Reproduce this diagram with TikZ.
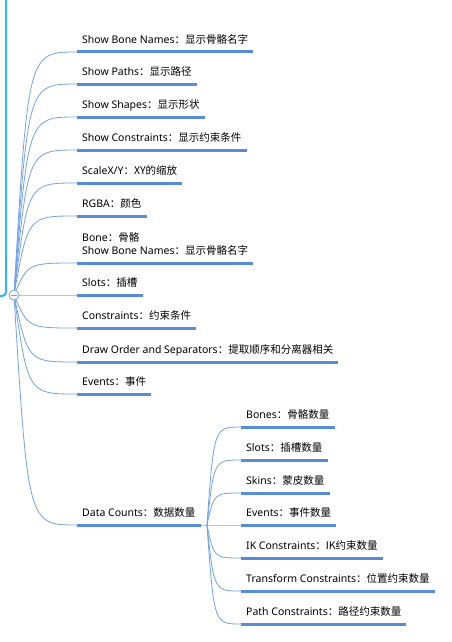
\documentclass[tikz,border=0pt]{standalone}
\usepackage{fontspec}
\setmainfont{Noto Sans}
\newfontfamily\cjk{Noto Sans CJK SC}
\newcommand{\zh}[1]{{\cjk #1}}
\usetikzlibrary{calc}
\definecolor{MapCyan}{RGB}{51,181,245}
\definecolor{MapBlue}{RGB}{88,140,214}
\definecolor{MapLink}{RGB}{118,163,224}
\definecolor{MapPale}{RGB}{170,200,238}

\begin{document}
\begin{tikzpicture}[x=1pt,y=-1pt,
  topic/.style={anchor=south west,inner xsep=5pt,inner ysep=8pt,text depth=0pt,font=\fontsize{10.5}{13}\selectfont,align=left},
  uline/.style={MapBlue,line width=3pt},
  link/.style={MapLink,line width=0.8pt},
  flat/.style={MapPale,line width=1pt},
  rootdot/.style={circle,draw=MapLink,fill=white,line width=0.8pt,minimum size=10pt,inner sep=0pt}]
\useasboundingbox[fill=white] (0,0) rectangle (451,642);
\clip (0,0) rectangle (451,642);

% root box, mostly off the page
\draw[MapCyan,line width=2pt,rounded corners=4pt] (-30,-30) rectangle (6,296);

\coordinate (kx) at (28,0);
\coordinate (kx2) at (214,0);
\coordinate (hub) at (14,295);
\coordinate (sub) at (207,525);

% main branches
\coordinate (a1) at (77,52);
\coordinate (a2) at (77,84);
\coordinate (a3) at (77,117);
\coordinate (a4) at (77,150);
\coordinate (a5) at (77,183);
\coordinate (a6) at (77,216);
\coordinate (a7) at (77,263);
\coordinate (a8) at (77,295);
\coordinate (a9) at (77,328);
\coordinate (a10) at (77,362);
\coordinate (a11) at (77,394);
\coordinate (a12) at (77,525);
\node[topic] (bn) at (a1) {Show Bone Names\zh{：显示骨骼名字}};
\node[topic] (pth) at (a2) {Show Paths\zh{：显示路径}};
\node[topic] (shp) at (a3) {Show Shapes\zh{：显示形状}};
\node[topic] (cst) at (a4) {Show Constraints\zh{：显示约束条件}};
\node[topic] (scl) at (a5) {ScaleX/Y\zh{：XY的缩放}};
\node[topic] (rgba) at (a6) {RGBA\zh{：颜色}};
\node[topic] (bone) at (a7) {Bone\zh{：骨骼}\\Show Bone Names\zh{：显示骨骼名字}};
\node[topic] (slt) at (a8) {Slots\zh{：插槽}};
\node[topic] (con) at (a9) {Constraints\zh{：约束条件}};
\node[topic] (dro) at (a10) {Draw Order and Separators\zh{：提取顺序和分离器相关}};
\node[topic] (evt) at (a11) {Events\zh{：事件}};
\node[topic] (dat) at (a12) {Data Counts\zh{：数据数量}};

% data count children
\coordinate (b1) at (241,427);
\coordinate (b2) at (241,460);
\coordinate (b3) at (241,493);
\coordinate (b4) at (241,525);
\coordinate (b5) at (241,558);
\coordinate (b6) at (241,591);
\coordinate (b7) at (241,624);
\node[topic] (cbon) at (b1) {Bones\zh{：骨骼数量}};
\node[topic] (cslt) at (b2) {Slots\zh{：插槽数量}};
\node[topic] (cskn) at (b3) {Skins\zh{：蒙皮数量}};
\node[topic] (cevt) at (b4) {Events\zh{：事件数量}};
\node[topic] (cik) at (b5) {IK Constraints\zh{：IK约束数量}};
\node[topic] (ctf) at (b6) {Transform Constraints\zh{：位置约束数量}};
\node[topic] (cpth) at (b7) {Path Constraints\zh{：路径约束数量}};

% connectors
\draw[link] (hub) .. controls (kx |- a1) .. (a1);
\draw[link] (hub) .. controls (kx |- a2) .. (a2);
\draw[link] (hub) .. controls (kx |- a3) .. (a3);
\draw[link] (hub) .. controls (kx |- a4) .. (a4);
\draw[link] (hub) .. controls (kx |- a5) .. (a5);
\draw[link] (hub) .. controls (kx |- a6) .. (a6);
\draw[link] (hub) .. controls (kx |- a7) .. (a7);
\draw[flat] (hub) -- (a8);
\draw[link] (hub) .. controls (kx |- a9) .. (a9);
\draw[link] (hub) .. controls (kx |- a10) .. (a10);
\draw[link] (hub) .. controls (kx |- a11) .. (a11);
\draw[link] (hub) .. controls (kx |- a12) .. (a12);
\draw[flat] (a12 -| dat.east) -- (sub);
\draw[link] (sub) .. controls (kx2 |- b1) .. (b1);
\draw[link] (sub) .. controls (kx2 |- b2) .. (b2);
\draw[link] (sub) .. controls (kx2 |- b3) .. (b3);
\draw[flat] (sub) -- (b4);
\draw[link] (sub) .. controls (kx2 |- b5) .. (b5);
\draw[link] (sub) .. controls (kx2 |- b6) .. (b6);
\draw[link] (sub) .. controls (kx2 |- b7) .. (b7);

% underlines
\draw[uline] (a1) -- (a1 -| bn.east);
\draw[uline] (a2) -- (a2 -| pth.east);
\draw[uline] (a3) -- (a3 -| shp.east);
\draw[uline] (a4) -- (a4 -| cst.east);
\draw[uline] (a5) -- (a5 -| scl.east);
\draw[uline] (a6) -- (a6 -| rgba.east);
\draw[uline] (a7) -- (a7 -| bone.east);
\draw[uline] (a8) -- (a8 -| slt.east);
\draw[uline] (a9) -- (a9 -| con.east);
\draw[uline] (a10) -- (a10 -| dro.east);
\draw[uline] (a11) -- (a11 -| evt.east);
\draw[uline] (a12) -- (a12 -| dat.east);
\draw[uline] (b1) -- (b1 -| cbon.east);
\draw[uline] (b2) -- (b2 -| cslt.east);
\draw[uline] (b3) -- (b3 -| cskn.east);
\draw[uline] (b4) -- (b4 -| cevt.east);
\draw[uline] (b5) -- (b5 -| cik.east);
\draw[uline] (b6) -- (b6 -| ctf.east);
\draw[uline] (b7) -- (b7 -| cpth.east);

% collapse button
\node[rootdot] (root) at (hub) {};
\draw[MapLink,line width=0.8pt] ($(root.west)+(2,0)$) -- ($(root.east)-(2,0)$);
\end{tikzpicture}
\end{document}
